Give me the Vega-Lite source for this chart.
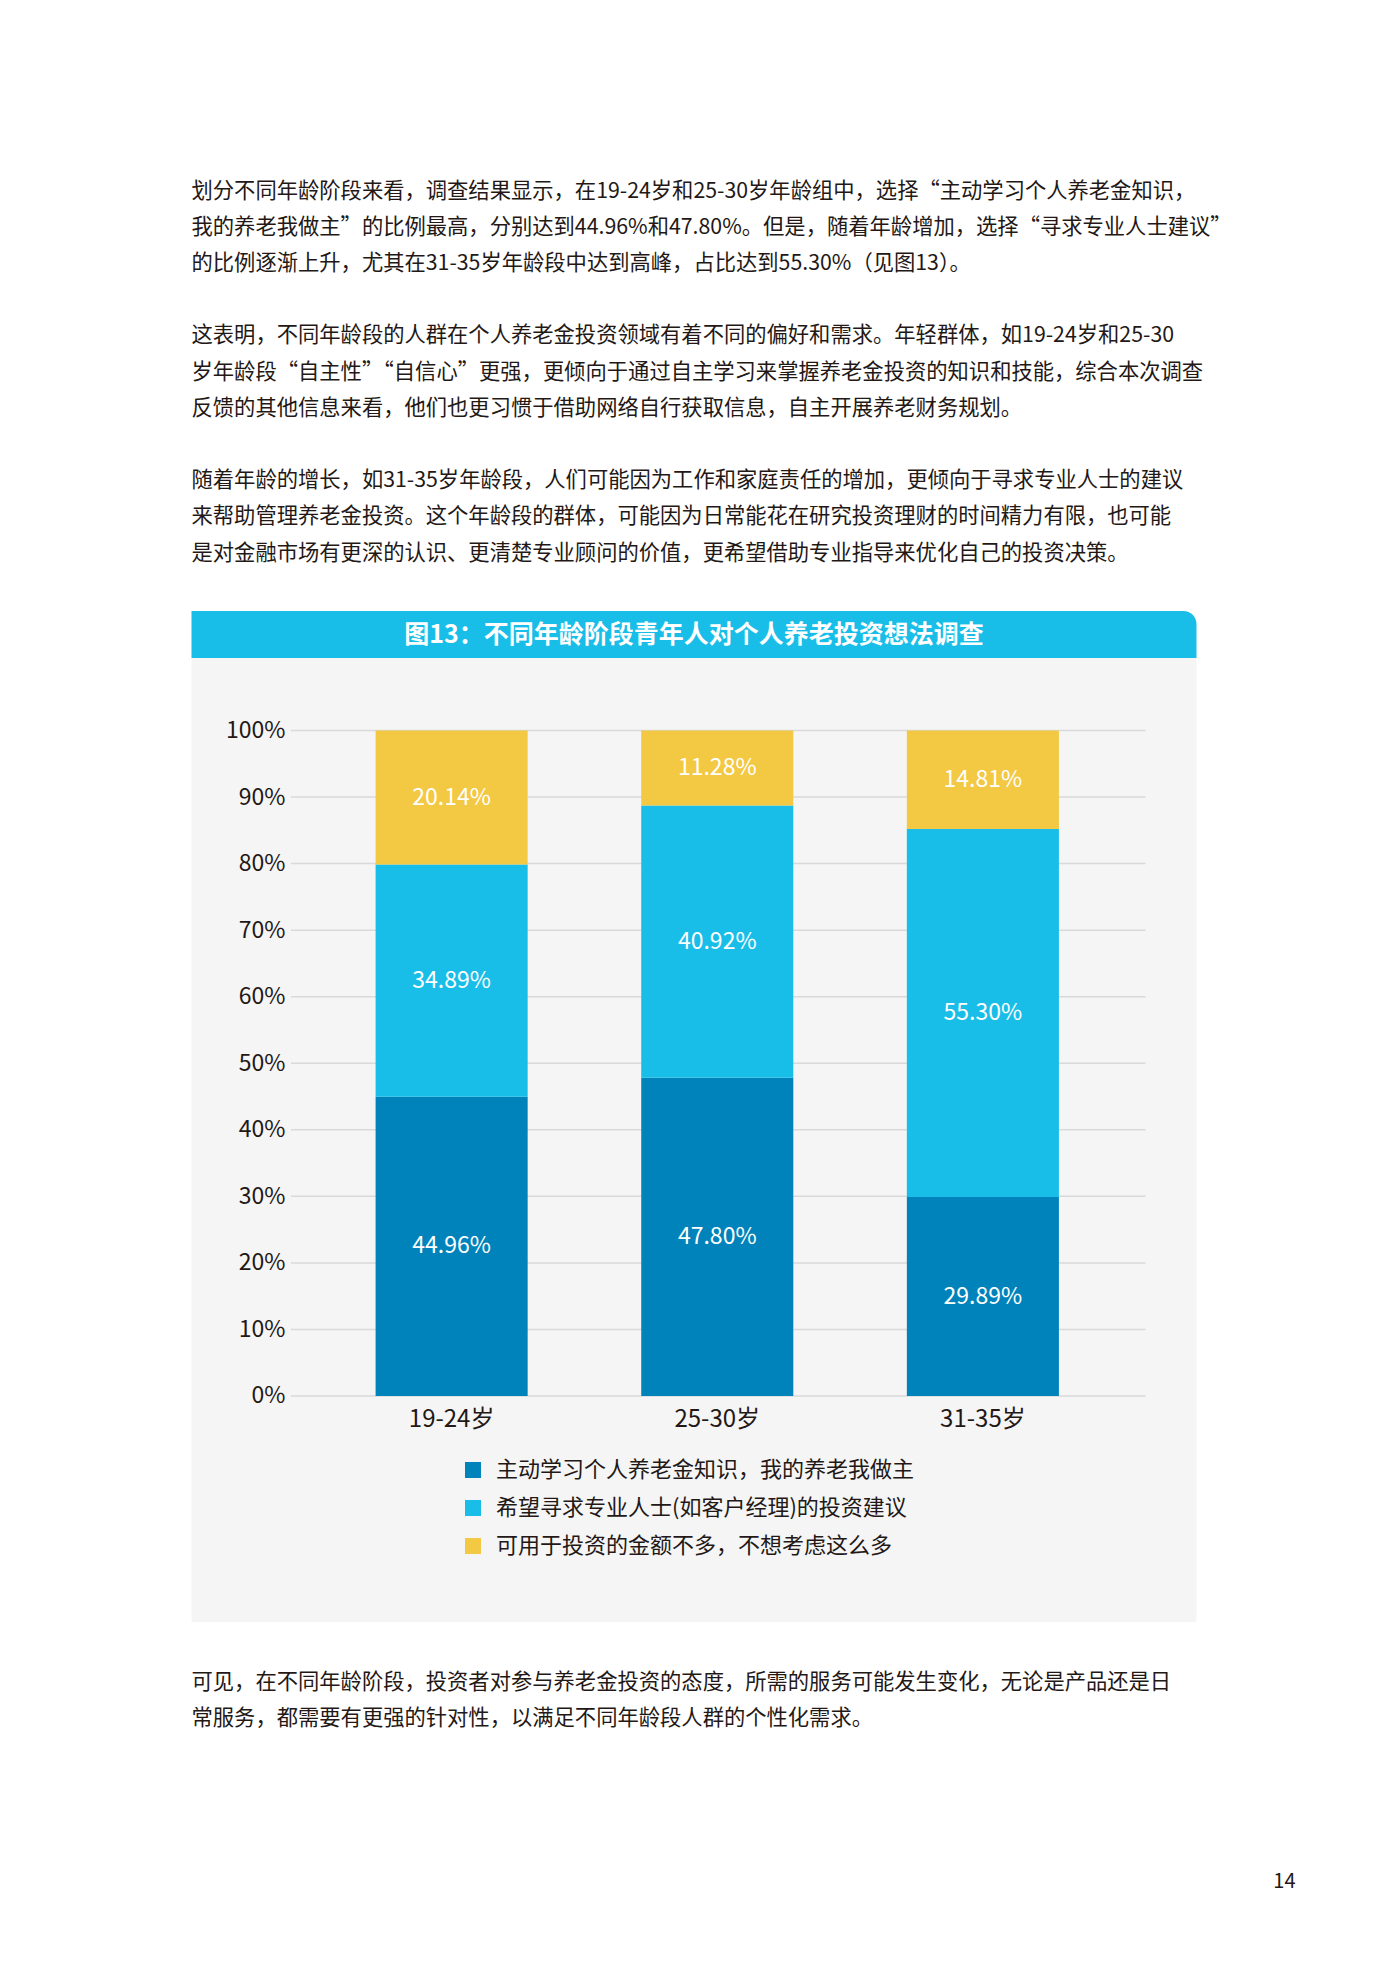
{
  "$schema": "https://vega.github.io/schema/vega-lite/v6.json",
  "background": "#ffffff",
  "padding": {"left": 191.5, "top": 0, "right": 90, "bottom": 80},
  "bounds": "flush",
  "spacing": 0,
  "config": {
    "font": "Noto Sans CJK SC",
    "view": {"stroke": null}
  },
  "vconcat": [
    {
      "width": 1005,
      "height": 611,
      "data": {"values": [
        {"line": 0, "text": "划分不同年龄阶段来看，调查结果显示，在19-24岁和25-30岁年龄组中，选择“主动学习个人养老金知识，"},
        {"line": 1, "text": "我的养老我做主”的比例最高，分别达到44.96%和47.80%。但是，随着年龄增加，选择“寻求专业人士建议”"},
        {"line": 2, "text": "的比例逐渐上升，尤其在31-35岁年龄段中达到高峰，占比达到55.30%（见图13）。"},
        {"line": 4, "text": "这表明，不同年龄段的人群在个人养老金投资领域有着不同的偏好和需求。年轻群体，如19-24岁和25-30"},
        {"line": 5, "text": "岁年龄段“自主性”“自信心”更强，更倾向于通过自主学习来掌握养老金投资的知识和技能，综合本次调查"},
        {"line": 6, "text": "反馈的其他信息来看，他们也更习惯于借助网络自行获取信息，自主开展养老财务规划。"},
        {"line": 8, "text": "随着年龄的增长，如31-35岁年龄段，人们可能因为工作和家庭责任的增加，更倾向于寻求专业人士的建议"},
        {"line": 9, "text": "来帮助管理养老金投资。这个年龄段的群体，可能因为日常能花在研究投资理财的时间精力有限，也可能"},
        {"line": 10, "text": "是对金融市场有更深的认识、更清楚专业顾问的价值，更希望借助专业指导来优化自己的投资决策。"}
      ]},
      "mark": {"type": "text", "align": "left", "baseline": "middle", "fontSize": 21.3, "color": "#231815"},
      "encoding": {
        "x": {"datum": 0, "type": "quantitative", "scale": {"domain": [0, 1]}, "axis": null},
        "y": {"field": "line", "type": "quantitative", "scale": {"domain": [-5.29, 11.588], "reverse": true, "nice": false, "zero": false}, "axis": null},
        "text": {"field": "text"}
      }
    },
    {
      "width": 1005,
      "height": 47,
      "data": {"values": [{"title": "图13：不同年龄阶段青年人对个人养老投资想法调查"}]},
      "layer": [
        {
          "mark": {"type": "rect", "color": "#18bee8", "cornerRadiusTopRight": 13},
          "encoding": {
            "x": {"datum": 0, "type": "quantitative", "scale": {"domain": [0, 1]}, "axis": null},
            "x2": {"datum": 1},
            "y": {"datum": 0, "type": "quantitative", "scale": {"domain": [0, 1]}, "axis": null},
            "y2": {"datum": 1}
          }
        },
        {
          "mark": {"type": "text", "color": "#ffffff", "fontSize": 25, "fontWeight": "bold", "align": "center", "baseline": "middle"},
          "encoding": {
            "x": {"datum": 0.5, "type": "quantitative"},
            "y": {"datum": 0.5, "type": "quantitative"},
            "text": {"field": "title"}
          }
        }
      ]
    },
    {
      "width": 1005,
      "height": 964,
      "view": {"fill": "#f5f5f5", "stroke": null},
      "resolve": {"scale": {"x": "independent"}, "axis": {"x": "independent", "y": "independent"}},
      "layer": [
        {
          "data": {"values": [
            {"tick": 0}, {"tick": 0.1}, {"tick": 0.2}, {"tick": 0.3}, {"tick": 0.4}, {"tick": 0.5},
            {"tick": 0.6}, {"tick": 0.7}, {"tick": 0.8}, {"tick": 0.9}, {"tick": 1}
          ]},
          "mark": {"type": "rule", "color": "#d9d9d9", "strokeWidth": 1.5},
          "encoding": {
            "x": {"datum": 0, "type": "quantitative", "scale": {"domain": [-0.1165, 1.0597]}, "axis": null},
            "x2": {"datum": 1},
            "y": {
              "field": "tick", "type": "quantitative",
              "scale": {"domain": [-0.3396, 1.1089], "nice": false, "zero": false},
              "axis": null
            }
          }
        },
        {
          "data": {"name": "survey"},
          "mark": {"type": "bar"},
          "encoding": {
            "x": {
              "field": "age", "type": "nominal", "sort": null,
              "scale": {"type": "band", "paddingInner": 0.4275, "paddingOuter": 0.6055, "align": 0.5723},
              "axis": {"orient": "bottom", "offset": -226, "domain": false, "ticks": false, "tickSize": 0, "grid": false,
                       "labelPadding": 11, "labelFontSize": 24, "labelColor": "#231815", "labelAngle": 0, "title": null}
            },
            "y": {"field": "value", "type": "quantitative", "stack": "zero",
                  "scale": {"domain": [-0.3396, 1.1089], "nice": false, "zero": false},
                  "axis": {
                    "orient": "left",
                    "values": [0, 0.1, 0.2, 0.3, 0.4, 0.5, 0.6, 0.7, 0.8, 0.9, 1],
                    "format": ".0%", "domain": false, "ticks": false, "tickSize": 0, "grid": false,
                    "offset": -99.5, "labelPadding": 6, "labelFontSize": 23, "labelColor": "#231815",
                    "title": null
                  }},
            "color": {
              "field": "category", "type": "nominal",
              "scale": {
                "domain": ["主动学习个人养老金知识，我的养老我做主", "希望寻求专业人士(如客户经理)的投资建议", "可用于投资的金额不多，不想考虑这么多"],
                "range": ["#0083bb", "#18bee8", "#f3c843"]
              },
              "legend": {
                "orient": "none", "legendX": 270.5, "legendY": 1459, "title": null, "direction": "vertical",
                "symbolType": "square", "symbolSize": 256, "symbolStrokeWidth": 0, "symbolOpacity": 1,
                "labelFontSize": 22, "labelColor": "#231815", "labelOffset": 12, "rowPadding": 16,
                "padding": 0, "labelLimit": 700
              }
            },
            "order": {"field": "k", "type": "quantitative"}
          }
        },
        {
          "data": {"name": "survey"},
          "mark": {"type": "text", "color": "#ffffff", "fontSize": 23, "baseline": "middle", "align": "center"},
          "encoding": {
            "x": {
              "field": "age", "type": "nominal", "sort": null,
              "scale": {"type": "band", "paddingInner": 0.4275, "paddingOuter": 0.6055, "align": 0.5723},
              "axis": null
            },
            "y": {"field": "value", "type": "quantitative", "stack": "zero", "bandPosition": 0.5,
                  "scale": {"domain": [-0.3396, 1.1089], "nice": false, "zero": false}, "axis": null},
            "detail": {"field": "category"},
            "order": {"field": "k", "type": "quantitative"},
            "text": {"field": "value", "type": "quantitative", "format": ".2%"}
          }
        }
      ]
    },
    {
      "width": 1104,
      "height": 245,
      "title": {"text": "14", "orient": "bottom", "anchor": "end", "fontSize": 20, "fontWeight": "normal", "color": "#231815", "offset": 5},
      "data": {"values": [
        {"line": 0, "text": "可见，在不同年龄阶段，投资者对参与养老金投资的态度，所需的服务可能发生变化，无论是产品还是日"},
        {"line": 1, "text": "常服务，都需要有更强的针对性，以满足不同年龄段人群的个性化需求。"}
      ]},
      "mark": {"type": "text", "align": "left", "baseline": "middle", "fontSize": 21.3, "color": "#231815"},
      "encoding": {
        "x": {"datum": 0, "type": "quantitative", "scale": {"domain": [0, 1]}, "axis": null},
        "y": {"field": "line", "type": "quantitative", "scale": {"domain": [-1.694, 5.111], "reverse": true, "nice": false, "zero": false}, "axis": null},
        "text": {"field": "text"}
      }
    }
  ],
  "datasets": {
    "survey": [
      {"age": "19-24岁", "category": "主动学习个人养老金知识，我的养老我做主", "k": 1, "value": 0.4496},
      {"age": "19-24岁", "category": "希望寻求专业人士(如客户经理)的投资建议", "k": 2, "value": 0.3489},
      {"age": "19-24岁", "category": "可用于投资的金额不多，不想考虑这么多", "k": 3, "value": 0.2014},
      {"age": "25-30岁", "category": "主动学习个人养老金知识，我的养老我做主", "k": 1, "value": 0.478},
      {"age": "25-30岁", "category": "希望寻求专业人士(如客户经理)的投资建议", "k": 2, "value": 0.4092},
      {"age": "25-30岁", "category": "可用于投资的金额不多，不想考虑这么多", "k": 3, "value": 0.1128},
      {"age": "31-35岁", "category": "主动学习个人养老金知识，我的养老我做主", "k": 1, "value": 0.2989},
      {"age": "31-35岁", "category": "希望寻求专业人士(如客户经理)的投资建议", "k": 2, "value": 0.553},
      {"age": "31-35岁", "category": "可用于投资的金额不多，不想考虑这么多", "k": 3, "value": 0.1481}
    ]
  }
}
